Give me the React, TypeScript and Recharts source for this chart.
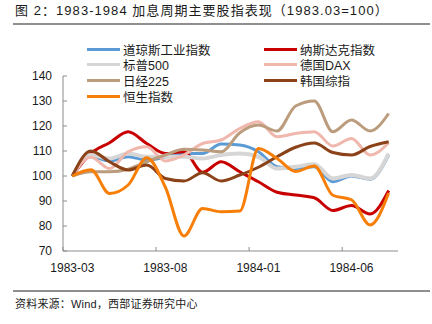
import React from 'react';
import { LineChart, Line, XAxis, YAxis } from 'recharts';

const MONTHS = [
  '1983-03', '1983-04', '1983-05', '1983-06', '1983-07', '1983-08',
  '1983-09', '1983-10', '1983-11', '1983-12', '1984-01', '1984-02',
  '1984-03', '1984-04', '1984-05', '1984-06', '1984-07', '1984-08',
];

const DOW = [100, 107.7, 106, 107.7, 106.4, 107.5, 109, 109, 112.8, 112.4, 109.7, 103.7, 103, 103.7, 97.7, 100, 98.7, 108.4];
const NASDAQ = [100, 109, 113.3, 117.7, 113, 109, 109.7, 101.5, 105.7, 101.7, 97.7, 93.5, 92.4, 91.3, 86.2, 88.2, 84.8, 94.2];
const SP500 = [100, 108.4, 107, 109, 107.7, 107.7, 107.7, 107, 108.4, 109, 107.7, 103, 103.7, 104.7, 99, 100.4, 99, 109];
const DAX = [100, 107.5, 103, 109.7, 111.7, 106, 108.4, 113, 114.4, 119, 121.7, 115.7, 117, 117.7, 112, 115, 108.4, 113.3];
const NIKKEI = [100, 101.7, 101.7, 102.7, 105.7, 108.4, 110.7, 110.4, 109.7, 117.3, 120.4, 118, 128, 130, 117.7, 122.4, 118, 125];
const KOSPI = [100, 110, 105.7, 102.4, 104.4, 99, 98, 101.3, 98, 100.4, 103.5, 107.7, 111.5, 113.2, 109.4, 108.4, 111.8, 113.7];
const HSI = [100, 102.5, 93, 96.4, 107.3, 95.5, 76, 87, 85.7, 86, 111, 107, 101.8, 104, 92.3, 90.5, 80.4, 93.2];

const Y_TICKS = [70, 80, 90, 100, 110, 120, 130, 140];

const SERIES = [
  { key: 'dow', name: '道琼斯工业指数', color: '#5B9BD5', width: 3, values: DOW },
  { key: 'nasdaq', name: '纳斯达克指数', color: '#C80000', width: 3, values: NASDAQ },
  { key: 'sp500', name: '标普500', color: '#D6D6D6', width: 4, values: SP500 },
  { key: 'dax', name: '德国DAX', color: '#F0B7AD', width: 3, values: DAX },
  { key: 'nikkei', name: '日经225', color: '#BB9C7C', width: 3, values: NIKKEI },
  { key: 'kospi', name: '韩国综指', color: '#8B4218', width: 3, values: KOSPI },
  { key: 'hsi', name: '恒生指数', color: '#F77F08', width: 3, values: HSI },
];

const data = MONTHS.map((month, i) => {
  const row: any = { month };
  SERIES.forEach(s => { row[s.key] = s.values[i]; });
  return row;
});

const FONT = '"Liberation Sans", Arial, "Noto Sans CJK SC", sans-serif';
const AXIS = '#8c8c8c';
const HALF_BAND = 335 / 18 / 2;

const YTick = ({ x, y, payload }: any) => (
  <g>
    <line x1={x} x2={x + 4} y1={y} y2={y} stroke={AXIS} />
    <text x={x - 11} y={y} dy={4.3} textAnchor="end" fontSize={12} fill="#1a1a1a" fontFamily={FONT}>
      {payload.value}
    </text>
  </g>
);

const XTick = ({ x, y, payload }: any) => (
  <g>
    <line x1={x - HALF_BAND} x2={x - HALF_BAND} y1={y} y2={y - 4} stroke={AXIS} />
    <text x={x} y={y} dy={20.5} textAnchor="middle" fontSize={12} fill="#1a1a1a" fontFamily={FONT}>
      {payload.value}
    </text>
  </g>
);

const LegendBox = () => (
  <>
    {SERIES.map((s, i) => {
      const col = i % 2;
      const row = Math.floor(i / 2);
      return (
        <div
          key={s.key}
          style={{
            position: 'absolute',
            left: col === 0 ? 87 : 264,
            top: 49 + row * 15.9 - 8,
            height: 16,
            display: 'flex',
            alignItems: 'center',
            fontSize: 12.5,
            color: '#1a1a1a',
            whiteSpace: 'nowrap',
          }}
        >
          <span style={{ display: 'inline-block', width: 33, height: 3, background: s.color, marginRight: 3 }} />
          <span>{s.name}</span>
        </div>
      );
    })}
  </>
);

export default function App() {
  return (
    <div style={{ position: 'absolute', left: 0, top: 0, width: 432, height: 324, background: '#fff', fontFamily: FONT }}>
      <div style={{ position: 'absolute', left: 15, top: 3, fontSize: 13, lineHeight: '16px', letterSpacing: 1.05, color: '#1a1a1a', whiteSpace: 'nowrap' }}>
        图 2：1983-1984 加息周期主要股指表现（1983.03=100）
      </div>
      <div style={{ position: 'absolute', left: 13, top: 23, width: 417, height: 2, background: '#8f8f8f' }} />
      <LineChart
        width={432}
        height={324}
        data={data}
        margin={{ top: 76, right: 34, bottom: 43, left: 3 }}
        style={{ position: 'absolute', left: 0, top: 0 }}
      >
        <XAxis
          dataKey="month"
          height={30}
          interval={4}
          padding={{ left: HALF_BAND, right: HALF_BAND }}
          axisLine={{ stroke: AXIS }}
          tickLine={false}
          tickSize={0}
          tickMargin={0}
          tick={<XTick />}
        />
        <YAxis
          width={60}
          domain={[70, 140]}
          ticks={Y_TICKS}
          interval={0}
          axisLine={{ stroke: AXIS }}
          tickLine={false}
          tickSize={0}
          tickMargin={0}
          tick={<YTick />}
        />
        {SERIES.map(s => (
          <Line
            key={s.key}
            dataKey={s.key}
            name={s.name}
            type="monotone"
            stroke={s.color}
            strokeWidth={s.width}
            dot={false}
            activeDot={false}
            isAnimationActive={false}
          />
        ))}
      </LineChart>
      <LegendBox />
      <div style={{ position: 'absolute', left: 13, top: 290, width: 417, height: 2, background: '#8f8f8f' }} />
      <div style={{ position: 'absolute', left: 15, top: 297, fontSize: 11, lineHeight: '14px', letterSpacing: 0.2, color: '#1a1a1a', whiteSpace: 'nowrap' }}>
        资料来源：Wind，西部证券研究中心
      </div>
    </div>
  );
}
